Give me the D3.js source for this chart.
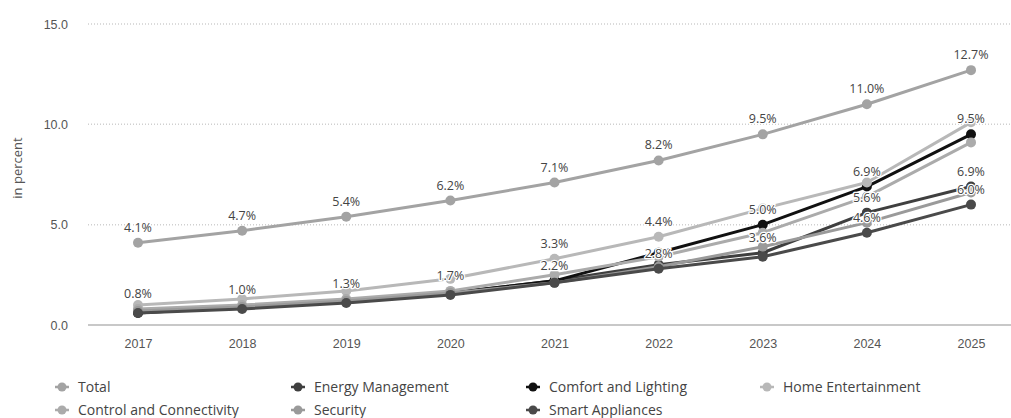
<!DOCTYPE html>
<html>
<head>
<meta charset="utf-8">
<script src="https://cdn.jsdelivr.net/npm/d3@7"></script>
<style>
  body { margin: 0; background: #fff; }
  svg { font-family: "Open Sans", "DejaVu Sans", sans-serif; }
</style>
</head>
<body>
<svg id="drawing_region"></svg>
<script>
// categories
const years = ["2017", "2018", "2019", "2020", "2021", "2022", "2023", "2024", "2025"];
const yTicks = [0, 5, 10, 15];

// series values (in percent)
const total = [4.1, 4.7, 5.4, 6.2, 7.1, 8.2, 9.5, 11.0, 12.7];
const energyManagement = [0.7, 0.9, 1.2, 1.6, 2.2, 3.0, 3.6, 5.6, 6.9];
const comfortLighting = [0.6, 0.9, 1.2, 1.6, 2.2, 3.6, 5.0, 6.9, 9.5];
const homeEntertainment = [1.0, 1.3, 1.7, 2.3, 3.3, 4.4, 5.8, 7.1, 10.1];
const controlConnectivity = [0.8, 1.0, 1.3, 1.7, 2.5, 3.4, 4.6, 6.4, 9.1];
const security = [0.7, 0.9, 1.2, 1.6, 2.1, 2.9, 3.9, 5.1, 6.6];
const smartAppliances = [0.6, 0.8, 1.1, 1.5, 2.1, 2.8, 3.4, 4.6, 6.0];

// which points carry a visible value label
const totalLabels = [0, 1, 2, 3, 4, 5, 6, 7, 8];
const energyLabels = [6, 7, 8];
const comfortLabels = [4, 6, 7, 8];
const homeLabels = [4, 5];
const controlLabels = [0, 1, 2, 3];
const securityLabels = [];
const smartLabels = [5, 7, 8];

const series = [
    { name: "Total", values: total, labels: totalLabels, color: "#a3a3a3" },
    { name: "Energy Management", values: energyManagement, labels: energyLabels, color: "#3f3f3f" },
    { name: "Comfort and Lighting", values: comfortLighting, labels: comfortLabels, color: "#111111" },
    { name: "Home Entertainment", values: homeEntertainment, labels: homeLabels, color: "#b8b8b8" },
    { name: "Control and Connectivity", values: controlConnectivity, labels: controlLabels, color: "#ababab" },
    { name: "Security", values: security, labels: securityLabels, color: "#9a9a9a" },
    { name: "Smart Appliances", values: smartAppliances, labels: smartLabels, color: "#4a4a4a" }
];

const config = {
    width: 1011,
    height: 418,
    plotLeft: 88,
    plotRight: 1011,
    plotTop: 24,
    plotBottom: 325
};

const svg = d3.select("#drawing_region")
    .attr("width", config.width)
    .attr("height", config.height);

const xscale = d3.scalePoint()
    .domain(years)
    .range([138, 971]);

const yscale = d3.scaleLinear()
    .domain([0, 15])
    .range([config.plotBottom, config.plotTop]);

// gridlines
svg.append("g")
    .selectAll("line")
    .data(yTicks.filter(d => d > 0))
    .join("line")
    .attr("x1", config.plotLeft)
    .attr("x2", config.plotRight)
    .attr("y1", d => yscale(d))
    .attr("y2", d => yscale(d))
    .attr("stroke", "#d0d0d0")
    .attr("stroke-width", 1.5)
    .attr("stroke-dasharray", "1,2");

// baseline
svg.append("line")
    .attr("x1", config.plotLeft)
    .attr("x2", config.plotRight)
    .attr("y1", yscale(0))
    .attr("y2", yscale(0))
    .attr("stroke", "#c8c8c8")
    .attr("stroke-width", 2);

// y axis
const yaxis = d3.axisLeft(yscale)
    .tickValues(yTicks)
    .tickFormat(d3.format(".1f"))
    .tickSize(0)
    .tickPadding(0);

svg.append("g")
    .attr("transform", "translate(68,0)")
    .call(yaxis)
    .call(g => g.select(".domain").remove())
    .selectAll("text")
    .attr("fill", "#555")
    .style("font-size", "12.5px");

svg.append("text")
    .attr("transform", "rotate(-90)")
    .attr("x", -168)
    .attr("y", 22)
    .attr("text-anchor", "middle")
    .attr("fill", "#555")
    .style("font-size", "13px")
    .text("in percent");

// x axis
const xaxis = d3.axisBottom(xscale)
    .tickSize(0)
    .tickPadding(0);

svg.append("g")
    .attr("transform", `translate(0, 339)`)
    .call(xaxis)
    .call(g => g.select(".domain").remove())
    .selectAll("text")
    .attr("fill", "#555")
    .style("font-size", "12.5px");

// lines and markers
const line = d3.line()
    .x((d, i) => xscale(years[i]))
    .y(d => yscale(d));

const seriesGroups = svg.append("g")
    .selectAll("g")
    .data(series)
    .join("g");

seriesGroups.append("path")
    .attr("d", d => line(d.values))
    .attr("fill", "none")
    .attr("stroke", d => d.color)
    .attr("stroke-width", 3)
    .attr("stroke-linejoin", "round");

seriesGroups.selectAll("circle")
    .data(d => d.values.map((v, i) => ({ v: v, i: i, color: d.color })))
    .join("circle")
    .attr("cx", d => xscale(years[d.i]))
    .attr("cy", d => yscale(d.v))
    .attr("r", 5)
    .attr("fill", d => d.color);

// data labels
const labelData = [];
series.forEach(s => {
    s.labels.forEach(i => labelData.push({ v: s.values[i], i: i }));
});

svg.append("g")
    .selectAll("text")
    .data(labelData)
    .join("text")
    .attr("x", d => xscale(years[d.i]))
    .attr("y", d => yscale(d.v) - 11)
    .attr("text-anchor", "middle")
    .attr("fill", "#444")
    .attr("stroke", "#fff")
    .attr("stroke-width", 2.5)
    .attr("stroke-linejoin", "round")
    .attr("paint-order", "stroke")
    .style("font-size", "12.5px")
    .text(d => d3.format(".1f")(d.v) + "%");

// legend
const legendCols = [62, 298, 533, 767];
const legendRows = [387, 410];
const legendPos = [[0, 0], [1, 0], [2, 0], [3, 0], [0, 1], [1, 1], [2, 1]];

const legend = svg.append("g")
    .selectAll("g")
    .data(series)
    .join("g")
    .attr("transform", (d, i) => `translate(${legendCols[legendPos[i][0]]}, ${legendRows[legendPos[i][1]]})`);

legend.append("line")
    .attr("x1", -7)
    .attr("x2", 7)
    .attr("stroke", d => d.color)
    .attr("stroke-width", 2.5);

legend.append("circle")
    .attr("r", 4.5)
    .attr("fill", d => d.color);

legend.append("text")
    .attr("x", 16)
    .attr("dy", "0.35em")
    .attr("fill", "#444")
    .style("font-size", "14px")
    .text(d => d.name);
</script>
</body>
</html>
